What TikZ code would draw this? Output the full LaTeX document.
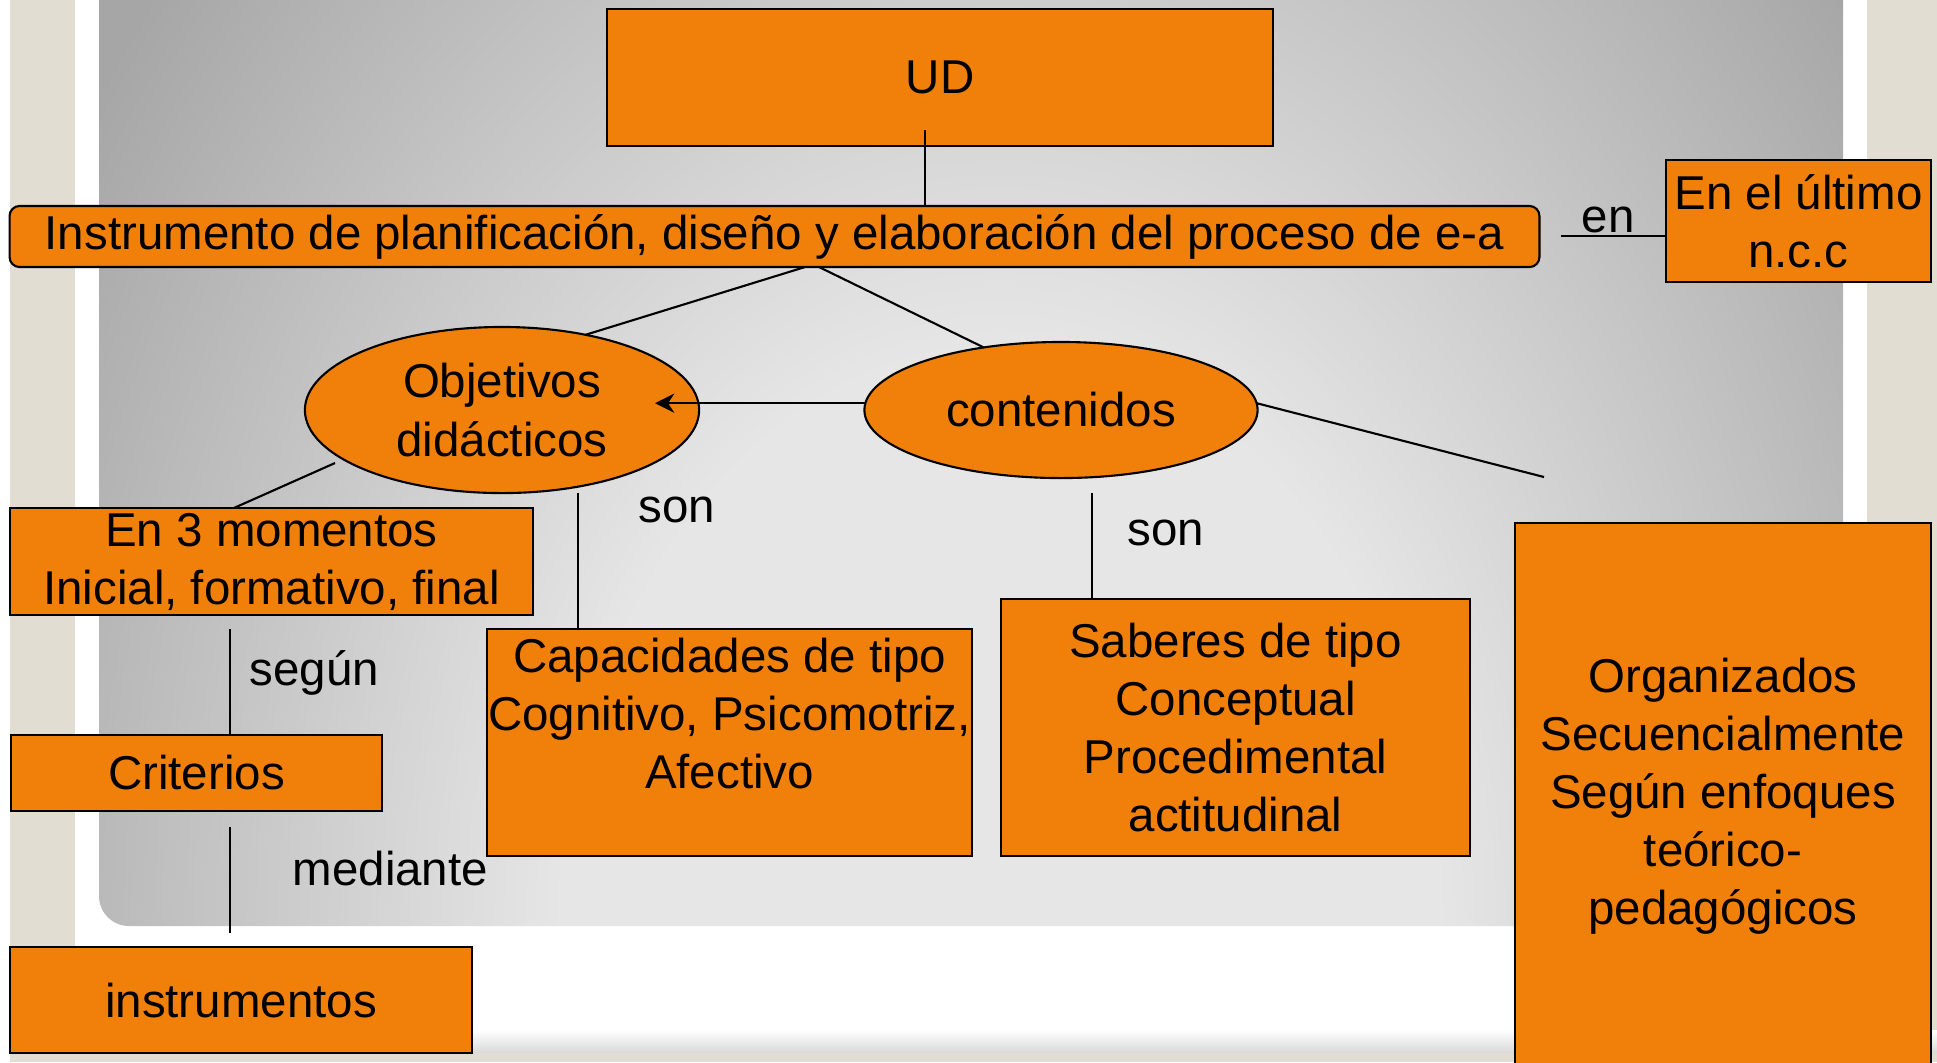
\documentclass[tikz,border=0pt]{standalone}
\usepackage{fontspec}
\setmainfont{Liberation Sans}
\usepackage{tikz}
\usetikzlibrary{arrows.meta, shapes.geometric}

\definecolor{boxorange}{HTML}{F0800A}
\definecolor{beige}{HTML}{E2DDD2}
\definecolor{panellight}{HTML}{E6E6E6}
\definecolor{paneldark}{HTML}{A6A6A6}
\pgfdeclareradialshading{panelshade}{\pgfpoint{0bp}{0bp}}{color(0bp)=(panellight); color(10bp)=(panellight); color(25bp)=(paneldark); color(50bp)=(paneldark)}

\begin{document}
\begin{tikzpicture}[x=0.01cm, y=-0.01cm,
    font=\fontsize{13.5pt}{16.5pt}\selectfont,
    box/.style={draw, line width=0.6pt, fill=boxorange, inner sep=0pt, outer sep=0pt, align=center},
    oval/.style={box, ellipse},
    link/.style={line width=0.6pt},
    word/.style={inner sep=0pt, anchor=base west}]
    \useasboundingbox (0,0) rectangle (1937,1062);
    % slide background
    \fill[white] (0,0) rectangle (1937,1062);
    \fill[beige] (10,0) rectangle (75,1062);
    \fill[beige] (1867,0) rectangle (1937,1062);
    \shade[top color=white, bottom color=gray!30] (10,1030) rectangle (1937,1053);
    \fill[beige] (10,1053) rectangle (1937,1062);
    \begin{scope}
        \clip[rounded corners=0.3cm] (99,-60) rectangle (1843,926);
        \shade[shading=panelshade] (-100,-550) rectangle (2100,2450);
    \end{scope}

    \node (ud) [box, minimum width=6.66cm, minimum height=1.37cm] at (940,77.5) {UD};
    \node (plan) [box, rounded corners=0.1cm, minimum width=15.29cm, minimum height=0.61cm] at (774.5,236.5) {Instrumento de planificación, diseño y elaboración del proceso de e-a};
    \node (ncc) [box, minimum width=2.65cm, minimum height=1.22cm] at (1798.5,221) {En el último\\n.c.c};
    \node (obj) [oval, minimum width=3.94cm, minimum height=1.66cm] at (502,410) {Objetivos\\didácticos};
    \node (cont) [oval, minimum width=3.93cm, minimum height=1.36cm] at (1061,410) {contenidos};
    \node (mom) [box, minimum width=5.23cm, minimum height=1.07cm] at (271.5,561.5) {En 3 momentos\\Inicial, formativo, final};
    \node (crit) [box, minimum width=3.71cm, minimum height=0.76cm] at (196.5,773) {Criterios};
    \node (inst) [box, minimum width=4.62cm, minimum height=1.06cm] at (241,1000) {instrumentos};
    \node (cap) [box, minimum width=4.85cm, minimum height=2.27cm] at (729.5,742.5) {Capacidades de tipo\\Cognitivo, Psicomotriz,\\Afectivo\\\mbox{}};
    \node (sab) [box, minimum width=4.69cm, minimum height=2.57cm] at (1235.5,727.5) {Saberes de tipo\\Conceptual\\Procedimental\\actitudinal};
    \node (org) [box, minimum width=4.16cm, minimum height=5.46cm] at (1723,796) {Organizados\\Secuencialmente\\Según enfoques\\teórico-\\pedagógicos};

    % links between the concepts
    \coordinate (udfoot) at (925,130);
    \draw[link] (udfoot) -- (udfoot |- plan.north);
    \draw[link] ([xshift=0.305cm]plan.south) -- (obj.42);
    \draw[link] ([xshift=0.445cm]plan.south) -- (cont.141);
    \coordinate (objtip) at (655,403);
    \draw[link, -{Stealth[length=5.5pt, width=5.5pt]}] (cont.178) -- (cont.178 -| objtip);
    \coordinate (orgend) at (1544,477);
    \draw[link] (cont.2) -- (orgend);
    \coordinate (planend) at (1561,236);
    \draw[link] (planend) -- (planend -| ncc.west);
    \coordinate (objmom) at (335,463);
    \draw[link] (objmom) -- ([xshift=-0.375cm]mom.north);
    \coordinate (objcap) at (578,493);
    \draw[link] (objcap) -- (objcap |- cap.north);
    \coordinate (contsab) at (1092,493);
    \draw[link] (contsab) -- (contsab |- sab.north);
    \coordinate (momcrit) at (230,629);
    \draw[link] (momcrit) -- (momcrit |- crit.north);
    \coordinate (critstart) at (230,827);
    \coordinate (critend) at (230,933);
    \draw[link] (critstart) -- (critend);

    \node (en) [word] at (1581,232) {en};
    \node (sonobj) [word] at (638,522) {son};
    \node (soncont) [word] at (1127,545) {son};
    \node (segun) [word] at (249,685) {según};
    \node (medi) [word] at (292,885) {mediante};
\end{tikzpicture}
\end{document}
